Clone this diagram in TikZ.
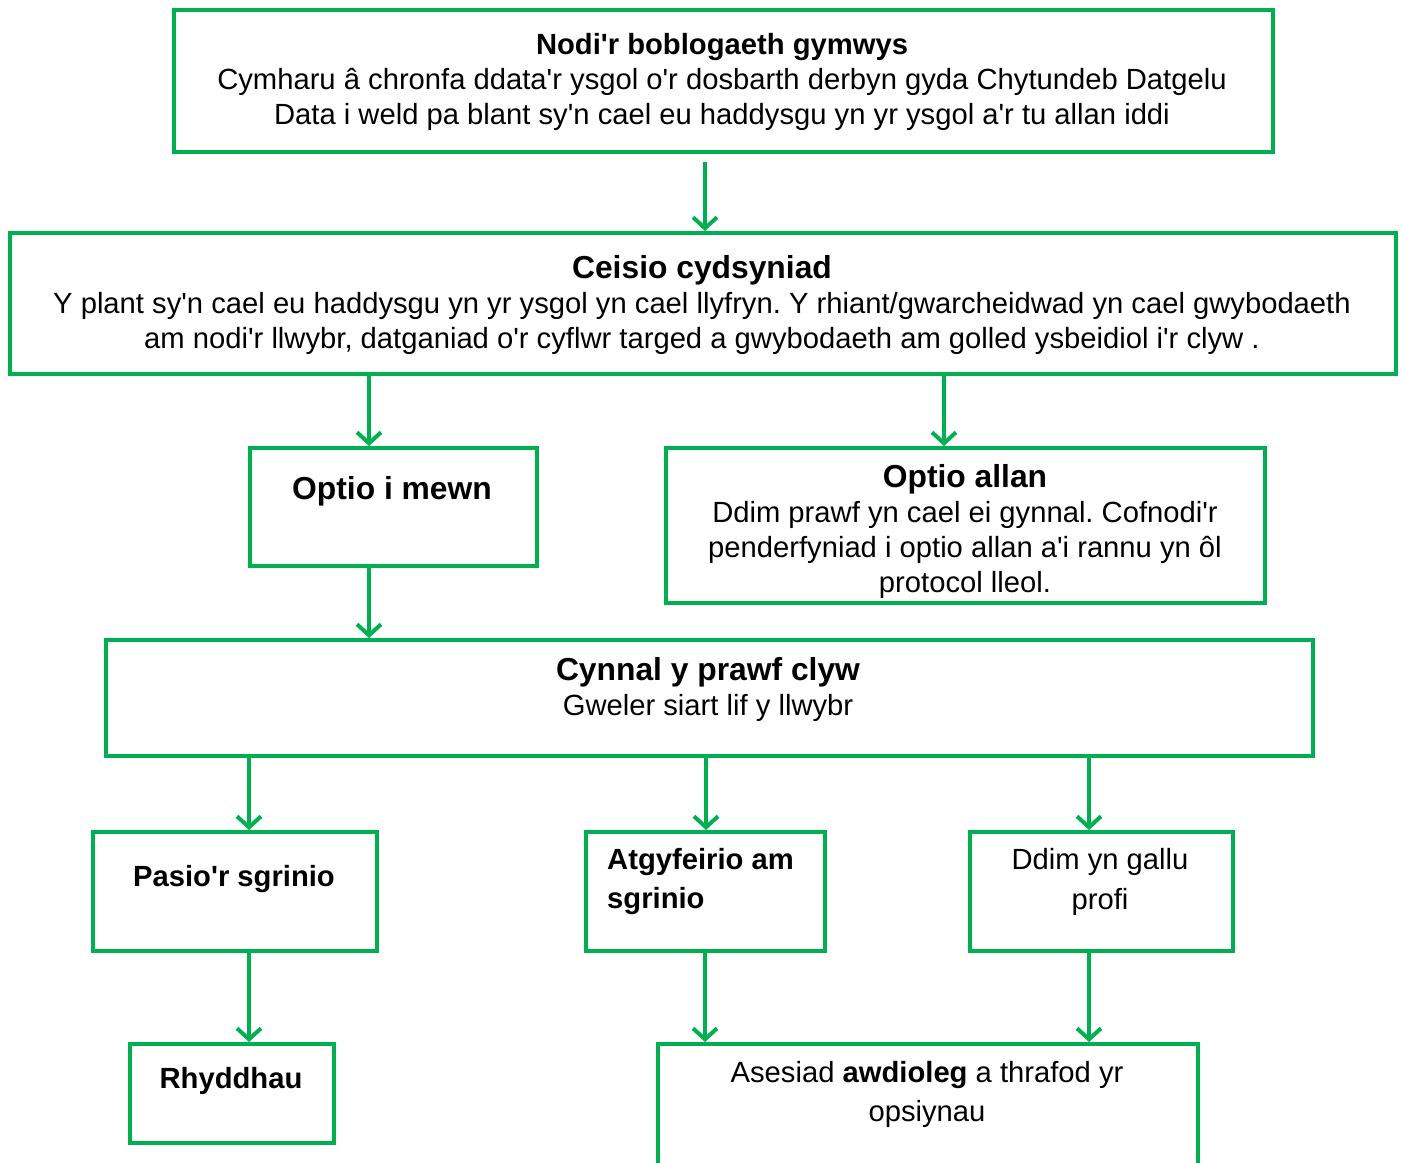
\documentclass[tikz,border=0pt]{standalone}
\usepackage{fontspec}
\setmainfont{Liberation Sans}[Ligatures=TeXOff]
\usetikzlibrary{arrows.meta}
\definecolor{boxgreen}{HTML}{00B050}
\frenchspacing
\newcommand{\txt}{\fontsize{29.2}{35}\selectfont}
\newcommand{\headfont}{\fontsize{31.8}{35}\selectfont\bfseries}
\begin{document}
\begin{tikzpicture}[x=1pt,y=-1pt,
    box/.style={draw=boxgreen,line width=4pt,inner sep=0pt,anchor=north west},
    arr/.style={draw=boxgreen,line width=4pt,-{Straight Barb[length=11pt,width=24pt]}}]

      \useasboundingbox (0,0) rectangle (1402,1162);

      \begin{scope}[every node/.style={box}]
        \node[minimum width=1099pt, minimum height=142pt] (nodi)    at (172,8)   {};
        \node[minimum width=1386pt, minimum height=141pt] (ceisio)  at (8,231)   {};
        \node[minimum width=287pt,  minimum height=118pt] (mewn)    at (248,446) {};
        \node[minimum width=599pt,  minimum height=155pt] (allan)   at (664,446) {};
        \node[minimum width=1207pt, minimum height=116pt] (cynnal)  at (104,638) {};
        \node[minimum width=284pt,  minimum height=119pt] (pasio)   at (91,830)  {};
        \node[minimum width=239pt,  minimum height=119pt] (atgy)    at (584,830) {};
        \node[minimum width=263pt,  minimum height=119pt] (ddim)    at (968,830) {};
        \node[minimum width=204pt,  minimum height=99pt]  (rhydd)   at (128,1042) {};
        \node[minimum width=540pt,  minimum height=160pt] (asesiad) at (656,1042) {};
      \end{scope}

      \begin{scope}[every node/.style={align=center, inner sep=0pt, font=\txt}]
        \node (t1) at (722,82) {\textbf{Nodi'r boblogaeth gymwys}\\
          Cymharu â chronfa ddata'r ysgol o'r dosbarth derbyn gyda Chytundeb Datgelu\\
          Data i weld pa blant sy'n cael eu haddysgu yn yr ysgol a'r tu allan iddi};
        \node (t2) at (702,305) {{\headfont Ceisio cydsyniad}\\
          Y plant sy'n cael eu haddysgu yn yr ysgol yn cael llyfryn. Y rhiant/gwarcheidwad yn cael gwybodaeth\\
          am nodi'r llwybr, datganiad o'r cyflwr targed a gwybodaeth am golled ysbeidiol i'r clyw .};
        \node (t3) at (392,491) {\headfont Optio i mewn};
        \node (t4) at (965,531) {{\headfont Optio allan}\\
          Ddim prawf yn cael ei gynnal. Cofnodi'r\\
          penderfyniad i optio allan a'i rannu yn ôl\\
          protocol lleol.};
        \node (t5) at (708,689) {{\headfont Cynnal y prawf clyw}\\ Gweler siart lif y llwybr};
        \node (t6) at (234,879) {\textbf{Pasio'r sgrinio}};
        \node[align=left, anchor=west, font=\fontsize{29.2}{39}\selectfont] (t7) at (607,882)
          {\textbf{Atgyfeirio am}\\ \textbf{sgrinio}};
        \node[font=\fontsize{29.2}{40}\selectfont] (t8) at (1100,882) {Ddim yn gallu\\ profi};
        \node (t9) at (231,1081) {\textbf{Rhyddhau}};
        \node[font=\fontsize{29.2}{39}\selectfont] (t10) at (927,1094)
          {Asesiad \textbf{awdioleg} a thrafod yr\\ opsiynau};
      \end{scope}

      \begin{scope}[every edge/.style={arr}]
        \path ([yshift=-8pt]nodi.south -| 705,0) edge (ceisio.north -| 705,0);
        \path (ceisio.south -| 369,0) edge (mewn.north -| 369,0);
        \path (ceisio.south -| 944,0) edge (allan.north -| 944,0);
        \path (mewn.south -| 369,0)   edge (cynnal.north -| 369,0);
        \path (cynnal.south -| 249,0) edge (pasio.north -| 249,0);
        \path (cynnal.south -| 706,0) edge (atgy.north -| 706,0);
        \path (cynnal.south -| 1089,0) edge (ddim.north -| 1089,0);
        \path (pasio.south -| 249,0)  edge (rhydd.north -| 249,0);
        \path (atgy.south -| 705,0)   edge (asesiad.north -| 705,0);
        \path (ddim.south -| 1089,0)  edge (asesiad.north -| 1089,0);
      \end{scope}

    \end{tikzpicture}
\end{document}
